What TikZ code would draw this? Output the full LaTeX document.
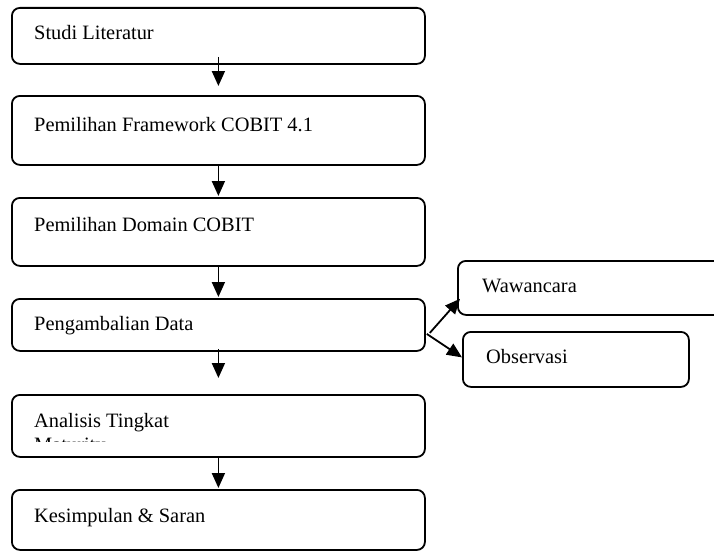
\documentclass[tikz,border=0pt]{standalone}
\usepackage{fontspec}
\setmainfont{Liberation Serif}
\usetikzlibrary{arrows.meta,calc}
\begin{document}
\begin{tikzpicture}[x=1pt,y=-1pt,
  box/.style={draw,line width=1.8pt,rounded corners=8pt,inner sep=0pt,anchor=north west},
  txt/.style={anchor=base west,inner sep=0pt,font=\fontsize{20.4}{24}\selectfont},
  arr/.style={line width=1.8pt,-{Triangle[width=13pt,length=15pt]}}]
\useasboundingbox (0,0) rectangle (714,551);
% boxes
\node[box,minimum width=413pt,minimum height=56pt] (b1) at (11,7) {};
\node[box,minimum width=413pt,minimum height=69pt] (b2) at (11,95) {};
\node[box,minimum width=413pt,minimum height=68pt] (b3) at (11,197) {};
\node[box,minimum width=413pt,minimum height=52pt] (b4) at (11,298) {};
\node[box,minimum width=413pt,minimum height=62pt] (b5) at (11,394) {};
\node[box,minimum width=413pt,minimum height=60pt] (b6) at (11,489) {};
\node[box,minimum width=300pt,minimum height=54pt] (bw) at (457,260) {};
\node[box,minimum width=226pt,minimum height=55pt] (bo) at (462,331) {};
% texts
\node[txt] (t1) at (34,40) {Studi Literatur};
\node[txt] (t2) at (34,131) {Pemilihan Framework COBIT 4.1};
\node[txt] (t3) at (34,231) {Pemilihan Domain COBIT};
\node[txt] (t4) at (34,330) {Pengambalian Data};
\node[txt] (t5) at (34,427) {Analisis Tingkat};
\begin{scope}
  \clip (0,0) rectangle (714,441);
  \node[txt] (t5b) at (34,451) {Maturity};
\end{scope}
\node[txt] (t6) at (34,522) {Kesimpulan \& Saran};
\node[txt] (tw) at (482,292) {Wawancara};
\node[txt] (to) at (486,363) {Observasi};
% arrows
\draw[arr] ($(b1.south)+(0,-8)$) -- ($(b2.north)+(0,-9)$);
\draw[arr] (b2.south) -- ($(b3.north)+(0,-1)$);
\draw[arr] (b3.south) -- ($(b4.north)+(0,-1)$);
\draw[arr] ($(b4.south)+(0,-3)$) -- ($(b5.north)+(0,-16)$);
\draw[arr] (b5.south) -- ($(b6.north)+(0,-1)$);
\draw[arr] ($(b4.east)+(4,8)$) -- ($(bw.south west)+(3,-17)$);
\draw[arr] ($(b4.east)+(1,9)$) -- ($(bo.west)+(0,-2)$);
\end{tikzpicture}
\end{document}
